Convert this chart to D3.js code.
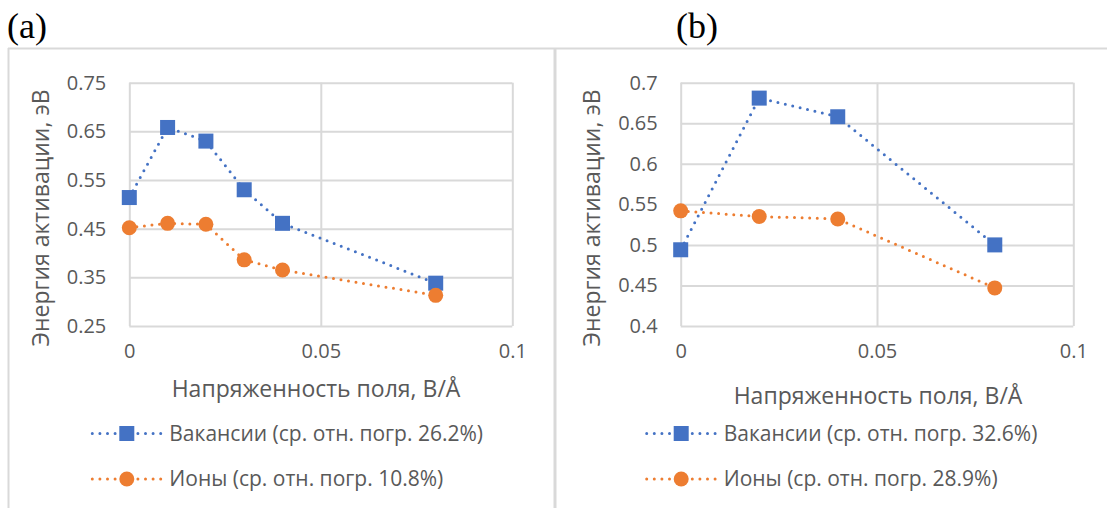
<!DOCTYPE html>
<html>
<head>
<meta charset="utf-8">
<script src="https://d3js.org/d3.v7.min.js"></script>
<style>
  html, body { margin: 0; padding: 0; background: #fff; }
  svg { display: block; }
  text { font-family: "Open Sans", "Noto Sans", sans-serif; fill: #595959; }
</style>
</head>
<body>
<svg id="chart" width="1107" height="508"></svg>
<script>
// Field strength values (V/Å) and activation energies (eV)
const fieldA = [0, 0.01, 0.02, 0.03, 0.04, 0.08];
const vacanciesA = [0.514, 0.658, 0.630, 0.530, 0.461, 0.338];
const ionsA = [0.452, 0.461, 0.459, 0.386, 0.365, 0.313];

const fieldB = [0, 0.02, 0.04, 0.08];
const vacanciesB = [0.494, 0.681, 0.658, 0.500];
const ionsB = [0.542, 0.535, 0.532, 0.447];

const xTicks = [0, 0.05, 0.1];
const xTickLabels = ["0", "0.05", "0.1"];
const yTicksA = [0.25, 0.35, 0.45, 0.55, 0.65, 0.75];
const yTickLabelsA = ["0.25", "0.35", "0.45", "0.55", "0.65", "0.75"];
const yTicksB = [0.4, 0.45, 0.5, 0.55, 0.6, 0.65, 0.7];
const yTickLabelsB = ["0.4", "0.45", "0.5", "0.55", "0.6", "0.65", "0.7"];

const legendA = ["Вакансии (ср. отн. погр. 26.2%)", "Ионы (ср. отн. погр. 10.8%)"];
const legendB = ["Вакансии (ср. отн. погр. 32.6%)", "Ионы (ср. отн. погр. 28.9%)"];

const xTitle = "Напряженность поля, В/Å";
const yTitle = "Энергия активации, эВ";

const BLUE = "#4472C4";
const ORANGE = "#ED7D31";
const GRID = "#d9d9d9";

const svg = d3.select("#chart");

// Frame lines around the two chart blocks
svg.append("line").attr("x1", 8).attr("x2", 1107).attr("y1", 48.5).attr("y2", 48.5)
  .attr("stroke", GRID).attr("stroke-width", 2);
svg.append("line").attr("x1", 8.5).attr("x2", 8.5).attr("y1", 48).attr("y2", 508)
  .attr("stroke", GRID).attr("stroke-width", 2);
svg.append("line").attr("x1", 555).attr("x2", 555).attr("y1", 48).attr("y2", 508)
  .attr("stroke", GRID).attr("stroke-width", 3);

function drawPanel(p) {
  const g = svg.append("g");
  const x = d3.scaleLinear().domain([0, 0.1]).range([p.left, p.right]);
  const y = d3.scaleLinear().domain(p.yDomain).range([p.bottom, p.top]);

  // panel letter
  g.append("text").attr("x", p.letterX).attr("y", 38)
    .style("font-family", "'Liberation Serif', 'DejaVu Serif', serif")
    .style("font-size", "36px").style("fill", "#000")
    .text(p.letter);

  // horizontal gridlines via axis
  const yAxis = d3.axisLeft(y).tickValues(p.yTicks).tickSize(-(p.right - p.left))
    .tickFormat((d, i) => p.yTickLabels[i]).tickPadding(23);
  const ya = g.append("g").attr("transform", `translate(${p.left},0)`).call(yAxis);
  ya.select(".domain").remove();
  ya.selectAll(".tick line").attr("stroke", GRID).attr("stroke-width", 2);
  ya.selectAll(".tick text").style("font-size", "20px").style("fill", "#595959")
    .style("font-family", "'Open Sans', sans-serif");

  // vertical gridlines via axis
  const xAxis = d3.axisBottom(x).tickValues(xTicks).tickSize(-(p.bottom - p.top))
    .tickFormat((d, i) => xTickLabels[i]).tickPadding(18);
  const xa = g.append("g").attr("transform", `translate(0,${p.bottom})`).call(xAxis);
  xa.select(".domain").remove();
  xa.selectAll(".tick line").attr("stroke", GRID).attr("stroke-width", 2);
  xa.selectAll(".tick text").style("font-size", "20px").style("fill", "#595959")
    .style("font-family", "'Open Sans', sans-serif");

  // axis titles
  g.append("text").attr("x", p.xTitleX).attr("y", p.xTitleY)
    .attr("text-anchor", "middle").style("font-size", "23px").text(xTitle);
  g.append("text")
    .attr("transform", `translate(${p.yTitleX},218) rotate(-90)`)
    .attr("text-anchor", "middle").attr("dy", "0.35em")
    .style("font-size", "23px").text(yTitle);

  const line = d3.line().x(d => x(d[0])).y(d => y(d[1]));
  const series = [
    { vals: p.vac, color: BLUE, shape: "square" },
    { vals: p.ion, color: ORANGE, shape: "circle" }
  ];

  series.forEach(s => {
    const pts = p.field.map((f, i) => [f, s.vals[i]]);
    g.append("path").datum(pts).attr("d", line)
      .attr("fill", "none").attr("stroke", s.color).attr("stroke-width", 3)
      .attr("stroke-linecap", "round").attr("stroke-dasharray", "0 7.6");
    if (s.shape === "square") {
      g.selectAll(null).data(pts).enter().append("rect")
        .attr("x", d => x(d[0]) - 7.5).attr("y", d => y(d[1]) - 7.5)
        .attr("width", 15).attr("height", 15).attr("fill", s.color);
    } else {
      g.selectAll(null).data(pts).enter().append("circle")
        .attr("cx", d => x(d[0])).attr("cy", d => y(d[1])).attr("r", 7.5)
        .attr("fill", s.color);
    }
  });

  // legend
  const rows = [
    { label: p.legend[0], color: BLUE, shape: "square", yy: 433.5 },
    { label: p.legend[1], color: ORANGE, shape: "circle", yy: 479 }
  ];
  rows.forEach(r => {
    g.append("line").attr("x1", p.legX).attr("x2", p.legX + 69)
      .attr("y1", r.yy).attr("y2", r.yy)
      .attr("stroke", r.color).attr("stroke-width", 3)
      .attr("stroke-linecap", "round").attr("stroke-dasharray", "0 7.6");
    const cx = p.legX + 34.5;
    if (r.shape === "square") {
      g.append("rect").attr("x", cx - 7.5).attr("y", r.yy - 7.5)
        .attr("width", 15).attr("height", 15).attr("fill", r.color);
    } else {
      g.append("circle").attr("cx", cx).attr("cy", r.yy).attr("r", 7.5).attr("fill", r.color);
    }
    g.append("text").attr("x", p.legX + 77).attr("y", r.yy).attr("dy", "0.35em")
      .style("font-size", "21px").text(r.label);
  });
}

drawPanel({
  letter: "(a)", letterX: 7,
  left: 129.3, right: 512.3, top: 82.7, bottom: 326,
  yDomain: [0.25, 0.75], yTicks: yTicksA, yTickLabels: yTickLabelsA,
  field: fieldA, vac: vacanciesA, ion: ionsA,
  xTitleX: 316, xTitleY: 397, yTitleX: 41,
  legX: 92.3, legend: legendA
});

drawPanel({
  letter: "(b)", letterX: 676,
  left: 680.7, right: 1073.3, top: 82.7, bottom: 326,
  yDomain: [0.4, 0.7], yTicks: yTicksB, yTickLabels: yTickLabelsB,
  field: fieldB, vac: vacanciesB, ion: ionsB,
  xTitleX: 878, xTitleY: 404, yTitleX: 592,
  legX: 646.7, legend: legendB
});
</script>
</body>
</html>
